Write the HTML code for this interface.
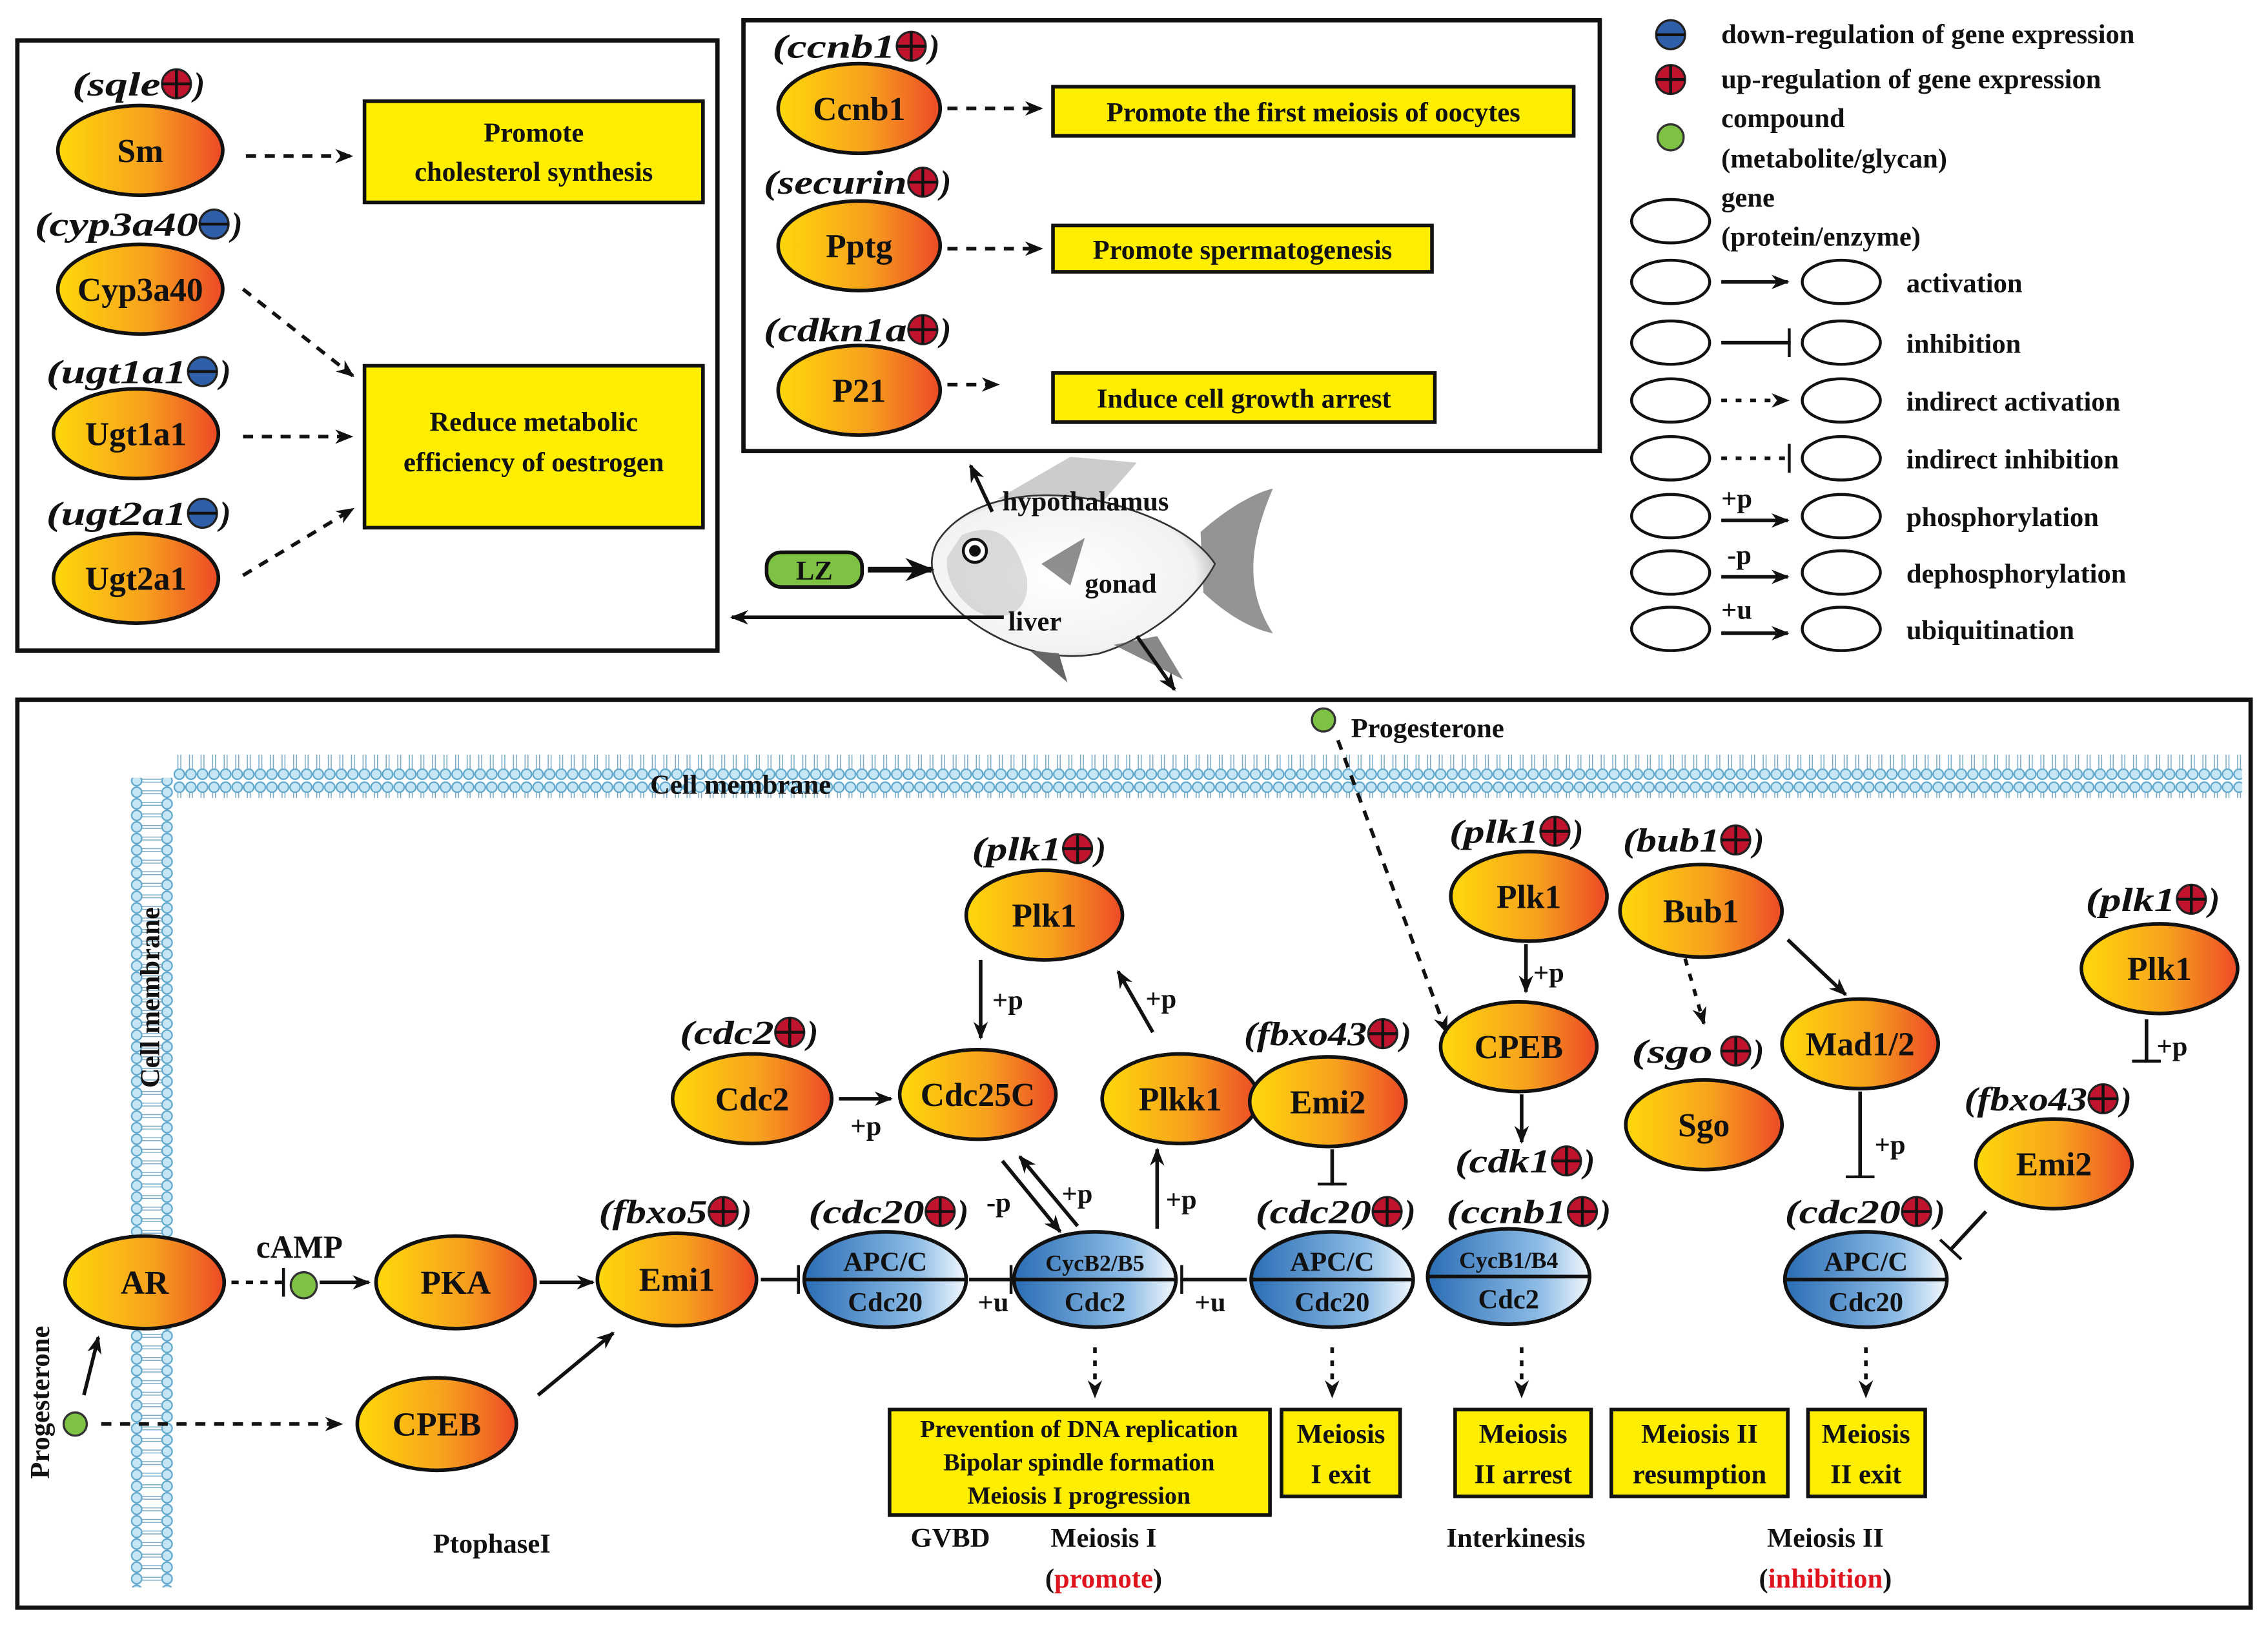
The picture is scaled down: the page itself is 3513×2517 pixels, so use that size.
<!DOCTYPE html>
<html><head><meta charset="utf-8"><style>
html,body{margin:0;padding:0;background:#fff}
svg{display:block}
svg text{font-family:"Liberation Serif","Times New Roman","Nimbus Roman","Nimbus Roman No9 L","DejaVu Serif Condensed","DejaVu Serif",serif;font-weight:bold;fill:#111}
.n{font-size:23px;text-anchor:middle}
.g{font-size:23px;font-style:italic}
.s{font-size:19px}
.l{font-size:19px}
</style></head><body>
<svg width="3513" height="2517" viewBox="0 0 1568 1124" preserveAspectRatio="none" xmlns="http://www.w3.org/2000/svg" font-weight="bold">
<defs>
<linearGradient id="og" x1="0" x2="1" y1="0" y2="0"><stop offset="0" stop-color="#ffd80a"/><stop offset="0.55" stop-color="#f7a11e"/><stop offset="1" stop-color="#ec4a26"/></linearGradient>
<linearGradient id="bg" x1="0" x2="1" y1="0" y2="0"><stop offset="0" stop-color="#2a6db5"/><stop offset="0.7" stop-color="#8fbde6"/><stop offset="1" stop-color="#f2f8fd"/></linearGradient>
<radialGradient id="fg" cx="0.45" cy="0.5" r="0.6"><stop offset="0" stop-color="#fff"/><stop offset="0.8" stop-color="#f2f2f2"/><stop offset="1" stop-color="#aaa"/></radialGradient>
<g id="up"><circle r="10" fill="#c0142e" stroke="#222" stroke-width="1.5"/><path d="M-10 0H10M0-10V10" stroke="#111" stroke-width="2"/></g>
<g id="dn"><circle r="10" fill="#2f5fa8" stroke="#222" stroke-width="1.5"/><path d="M-10 0H10" stroke="#111" stroke-width="2"/></g>
<marker id="a" viewBox="0 0 10 10" refX="9" refY="5" markerWidth="5" markerHeight="5" orient="auto"><path d="M0 1L10 5L0 9L3 5z" fill="#111"/></marker>
<marker id="t" viewBox="0 0 2 20" refX="2" refY="10" markerWidth="1" markerHeight="8" orient="auto" markerUnits="strokeWidth"><rect x="0" y="0" width="2" height="20" fill="#111"/></marker>
<pattern id="mh" width="8" height="30" patternUnits="userSpaceOnUse"><circle cx="4" cy="4.5" r="3.5" fill="#c6e6f6" stroke="#5ea6cc" stroke-width="1"/><circle cx="4" cy="25.5" r="3.5" fill="#c6e6f6" stroke="#5ea6cc" stroke-width="1"/><path d="M3 8V22M5 8V22" stroke="#7aaac4" stroke-width="0.7"/></pattern>
<pattern id="mv" width="30" height="8" patternUnits="userSpaceOnUse"><circle cx="4.5" cy="4" r="3.5" fill="#c6e6f6" stroke="#5ea6cc" stroke-width="1"/><circle cx="25.5" cy="4" r="3.5" fill="#c6e6f6" stroke="#5ea6cc" stroke-width="1"/><path d="M8 3H22M8 5H22" stroke="#7aaac4" stroke-width="0.7"/></pattern>
</defs>

<!-- ===== Box 1 ===== -->
<rect x="12" y="28" width="484" height="422" fill="none" stroke="#111" stroke-width="3"/>
<text class="g" x="50" y="66" textLength="61" lengthAdjust="spacingAndGlyphs">(sqle</text><use href="#up" x="122" y="58"/><text class="g" x="134" y="66">)</text>
<ellipse cx="97" cy="104" rx="57" ry="31" fill="url(#og)" stroke="#111" stroke-width="2.5"/><text class="n" x="97" y="112">Sm</text>
<text class="g" x="24" y="163" textLength="113" lengthAdjust="spacingAndGlyphs">(cyp3a40</text><use href="#dn" x="148" y="155"/><text class="g" x="160" y="163">)</text>
<ellipse cx="97" cy="200" rx="57" ry="31" fill="url(#og)" stroke="#111" stroke-width="2.5"/><text class="n" x="97" y="208">Cyp3a40</text>
<text class="g" x="32" y="265" textLength="97" lengthAdjust="spacingAndGlyphs">(ugt1a1</text><use href="#dn" x="140" y="257"/><text class="g" x="152" y="265">)</text>
<ellipse cx="94" cy="300" rx="57" ry="31" fill="url(#og)" stroke="#111" stroke-width="2.5"/><text class="n" x="94" y="308">Ugt1a1</text>
<text class="g" x="32" y="363" textLength="97" lengthAdjust="spacingAndGlyphs">(ugt2a1</text><use href="#dn" x="140" y="355"/><text class="g" x="152" y="363">)</text>
<ellipse cx="94" cy="400" rx="57" ry="31" fill="url(#og)" stroke="#111" stroke-width="2.5"/><text class="n" x="94" y="408">Ugt2a1</text>
<rect x="252" y="70" width="234" height="70" fill="#ffee00" stroke="#111" stroke-width="2.5"/>
<text class="s" x="369" y="98" text-anchor="middle">Promote</text><text class="s" x="369" y="125" text-anchor="middle">cholesterol synthesis</text>
<rect x="252" y="253" width="234" height="112" fill="#ffee00" stroke="#111" stroke-width="2.5"/>
<text class="s" x="369" y="298" text-anchor="middle">Reduce metabolic</text><text class="s" x="369" y="326" text-anchor="middle">efficiency of oestrogen</text>
<g stroke="#111" stroke-width="2.5" stroke-dasharray="7,6" fill="none" marker-end="url(#a)">
<path d="M170 108H243"/><path d="M168 200L244 260"/><path d="M168 302H243"/><path d="M168 398L244 352"/>
</g>

<!-- ===== Box 2 ===== -->
<rect x="514" y="14" width="592" height="298" fill="none" stroke="#111" stroke-width="3"/>
<text class="g" x="534" y="40" textLength="85" lengthAdjust="spacingAndGlyphs">(ccnb1</text><use href="#up" x="630" y="32"/><text class="g" x="642" y="40">)</text>
<ellipse cx="594" cy="75" rx="56" ry="31" fill="url(#og)" stroke="#111" stroke-width="2.5"/><text class="n" x="594" y="83">Ccnb1</text>
<text class="g" x="528" y="134" textLength="99" lengthAdjust="spacingAndGlyphs">(securin</text><use href="#up" x="638" y="126"/><text class="g" x="650" y="134">)</text>
<ellipse cx="594" cy="170" rx="56" ry="31" fill="url(#og)" stroke="#111" stroke-width="2.5"/><text class="n" x="594" y="178">Pptg</text>
<text class="g" x="528" y="236" textLength="99" lengthAdjust="spacingAndGlyphs">(cdkn1a</text><use href="#up" x="638" y="228"/><text class="g" x="650" y="236">)</text>
<ellipse cx="594" cy="270" rx="56" ry="31" fill="url(#og)" stroke="#111" stroke-width="2.5"/><text class="n" x="594" y="278">P21</text>
<rect x="728" y="60" width="360" height="34" fill="#ffee00" stroke="#111" stroke-width="2.5"/><text class="s" x="908" y="84" text-anchor="middle">Promote the first meiosis of oocytes</text>
<rect x="728" y="156" width="262" height="32" fill="#ffee00" stroke="#111" stroke-width="2.5"/><text class="s" x="859" y="179" text-anchor="middle">Promote spermatogenesis</text>
<rect x="728" y="258" width="264" height="34" fill="#ffee00" stroke="#111" stroke-width="2.5"/><text class="s" x="860" y="282" text-anchor="middle">Induce cell growth arrest</text>
<g stroke="#111" stroke-width="2.5" stroke-dasharray="7,6" fill="none" marker-end="url(#a)">
<path d="M655 75H720"/><path d="M655 172H720"/><path d="M655 266H690"/>
</g>

<!-- ===== Legend ===== -->
<use href="#dn" x="1155" y="24"/><text class="l" x="1190" y="30">down-regulation of gene expression</text>
<use href="#up" x="1155" y="55"/><text class="l" x="1190" y="61">up-regulation of gene expression</text>
<circle cx="1155" cy="95" r="9" fill="#7dc242" stroke="#333" stroke-width="1.5"/>
<text class="l" x="1190" y="88">compound</text><text class="l" x="1190" y="116">(metabolite/glycan)</text>
<ellipse cx="1155" cy="153" rx="27" ry="15" fill="#fff" stroke="#111" stroke-width="2"/>
<text class="l" x="1190" y="143">gene</text><text class="l" x="1190" y="170">(protein/enzyme)</text>
<g fill="#fff" stroke="#111" stroke-width="2">
<ellipse cx="1155" cy="195" rx="27" ry="15"/><ellipse cx="1273" cy="195" rx="27" ry="15"/>
<ellipse cx="1155" cy="237" rx="27" ry="15"/><ellipse cx="1273" cy="237" rx="27" ry="15"/>
<ellipse cx="1155" cy="277" rx="27" ry="15"/><ellipse cx="1273" cy="277" rx="27" ry="15"/>
<ellipse cx="1155" cy="317" rx="27" ry="15"/><ellipse cx="1273" cy="317" rx="27" ry="15"/>
<ellipse cx="1155" cy="357" rx="27" ry="15"/><ellipse cx="1273" cy="357" rx="27" ry="15"/>
<ellipse cx="1155" cy="396" rx="27" ry="15"/><ellipse cx="1273" cy="396" rx="27" ry="15"/>
<ellipse cx="1155" cy="435" rx="27" ry="15"/><ellipse cx="1273" cy="435" rx="27" ry="15"/>
</g>
<g stroke="#111" stroke-width="2.5" fill="none">
<path d="M1190 195H1236" marker-end="url(#a)"/>
<path d="M1190 237H1238" marker-end="url(#t)"/>
<path d="M1190 277H1236" stroke-dasharray="4,6" marker-end="url(#a)"/>
<path d="M1190 317H1238" stroke-dasharray="4,6" marker-end="url(#t)"/>
<path d="M1190 360H1236" marker-end="url(#a)"/>
<path d="M1190 399H1236" marker-end="url(#a)"/>
<path d="M1190 438H1236" marker-end="url(#a)"/>
</g>
<text class="l" x="1318" y="202">activation</text>
<text class="l" x="1318" y="244">inhibition</text>
<text class="l" x="1318" y="284">indirect activation</text>
<text class="l" x="1318" y="324">indirect inhibition</text>
<text class="l" x="1318" y="364">phosphorylation</text>
<text class="l" x="1318" y="403">dephosphorylation</text>
<text class="l" x="1318" y="442">ubiquitination</text>
<text class="l" x="1190" y="351">+p</text><text class="l" x="1194" y="390">-p</text><text class="l" x="1190" y="428">+u</text>

<!-- ===== Fish ===== -->
<path d="M690 345 L740 316 L786 320 L758 352 Z" fill="#999" opacity="0.5"/>
<path d="M830 368 C850 350 870 340 880 338 C862 380 862 410 880 438 C865 435 848 425 832 410 Z" fill="#666" opacity="0.7"/>
<path d="M648 375 C670 340 730 335 780 352 C810 362 830 375 840 390 C830 410 800 440 760 452 C720 460 680 440 660 420 C645 405 640 390 648 375 Z" fill="url(#fg)" stroke="#333" stroke-width="1.2"/>
<path d="M712 450 L738 472 L732 452 Z" fill="#666"/>
<path d="M770 446 L818 470 L800 440 Z" fill="#555" opacity="0.7"/>
<path d="M665 370 C690 360 702 372 710 400 C712 420 700 430 680 425 C665 420 652 400 655 385 Z" fill="#bbb" opacity="0.5"/>
<circle cx="674" cy="381" r="8" fill="#fff" stroke="#111" stroke-width="2"/><circle cx="674" cy="381" r="4" fill="#111"/>
<path d="M720 390 L750 372 L740 405 Z" fill="#444" opacity="0.6"/>
<text class="s" x="693" y="353">hypothalamus</text>
<text class="s" x="750" y="410">gonad</text>
<text class="s" x="697" y="436">liver</text>
<rect x="530" y="382" width="66" height="24" rx="10" fill="#7dc242" stroke="#111" stroke-width="2.5"/><text class="s" x="563" y="401" text-anchor="middle">LZ</text>
<g stroke="#111" stroke-width="2.5" fill="none" marker-end="url(#a)">
<path d="M600 394H644" stroke-width="4"/>
<path d="M686 354L671 322"/>
<path d="M694 427H506"/>
<path d="M786 440L812 477"/>
</g>

<!-- ===== Bottom box ===== -->
<rect x="12" y="484" width="1544" height="628" fill="none" stroke="#111" stroke-width="3"/>
<rect x="120" y="522" width="1430" height="30" fill="url(#mh)"/>
<rect x="90" y="538" width="30" height="560" fill="url(#mv)"/>
<text class="s" x="512" y="549" text-anchor="middle">Cell membrane</text>
<text class="s" x="0" y="0" text-anchor="middle" transform="translate(110 690) rotate(-90)">Cell membrane</text>
<text class="s" x="0" y="0" text-anchor="middle" transform="translate(34 970) rotate(-90)">Progesterone</text>
<circle cx="915" cy="498" r="8" fill="#7dc242" stroke="#333" stroke-width="1.5"/><text class="s" x="934" y="510">Progesterone</text>

<g fill="url(#og)" stroke="#111" stroke-width="2.5">
<ellipse cx="100" cy="887" rx="55" ry="32"/><ellipse cx="315" cy="887" rx="55" ry="32"/>
<ellipse cx="468" cy="885" rx="55" ry="32"/><ellipse cx="302" cy="985" rx="55" ry="32"/>
<ellipse cx="520" cy="760" rx="55" ry="31"/><ellipse cx="676" cy="757" rx="54" ry="31"/>
<ellipse cx="816" cy="760" rx="54" ry="31"/><ellipse cx="722" cy="633" rx="54" ry="31"/>
<ellipse cx="918" cy="762" rx="54" ry="31"/><ellipse cx="1057" cy="620" rx="54" ry="31"/>
<ellipse cx="1050" cy="724" rx="54" ry="31"/><ellipse cx="1176" cy="630" rx="56" ry="32"/>
<ellipse cx="1178" cy="778" rx="54" ry="31"/><ellipse cx="1286" cy="722" rx="54" ry="31"/>
<ellipse cx="1493" cy="670" rx="54" ry="31"/><ellipse cx="1420" cy="805" rx="54" ry="31"/>
</g>
<text class="n" x="100" y="895">AR</text><text class="n" x="315" y="895">PKA</text>
<text class="n" x="468" y="893">Emi1</text><text class="n" x="302" y="993">CPEB</text>
<text class="n" x="520" y="768">Cdc2</text><text class="n" x="676" y="765">Cdc25C</text>
<text class="n" x="816" y="768">Plkk1</text><text class="n" x="722" y="641">Plk1</text>
<text class="n" x="918" y="770">Emi2</text><text class="n" x="1057" y="628">Plk1</text>
<text class="n" x="1050" y="732">CPEB</text><text class="n" x="1176" y="638">Bub1</text>
<text class="n" x="1178" y="786">Sgo</text><text class="n" x="1286" y="730">Mad1/2</text>
<text class="n" x="1493" y="678">Plk1</text><text class="n" x="1420" y="813">Emi2</text>

<g stroke="#111" stroke-width="2.5">
<ellipse cx="612" cy="885" rx="56" ry="33" fill="url(#bg)"/><path d="M556 885H668"/>
<ellipse cx="757" cy="885" rx="56" ry="33" fill="url(#bg)"/><path d="M701 885H813"/>
<ellipse cx="921" cy="885" rx="56" ry="33" fill="url(#bg)"/><path d="M865 885H977"/>
<ellipse cx="1043" cy="883" rx="56" ry="33" fill="url(#bg)"/><path d="M987 883H1099"/>
<ellipse cx="1290" cy="885" rx="56" ry="33" fill="url(#bg)"/><path d="M1234 885H1346"/>
</g>
<text class="s" x="612" y="879" text-anchor="middle">APC/C</text><text class="s" x="612" y="907" text-anchor="middle">Cdc20</text>
<text class="s" x="757" y="879" text-anchor="middle" style="font-size:16px">CycB2/B5</text><text class="s" x="757" y="907" text-anchor="middle">Cdc2</text>
<text class="s" x="921" y="879" text-anchor="middle">APC/C</text><text class="s" x="921" y="907" text-anchor="middle">Cdc20</text>
<text class="s" x="1043" y="877" text-anchor="middle" style="font-size:16px">CycB1/B4</text><text class="s" x="1043" y="905" text-anchor="middle">Cdc2</text>
<text class="s" x="1290" y="879" text-anchor="middle">APC/C</text><text class="s" x="1290" y="907" text-anchor="middle">Cdc20</text>

<text class="g" x="672" y="595" textLength="62" lengthAdjust="spacingAndGlyphs">(plk1</text><use href="#up" x="745" y="587"/><text class="g" x="757" y="595">)</text>
<text class="g" x="470" y="722" textLength="65" lengthAdjust="spacingAndGlyphs">(cdc2</text><use href="#up" x="546" y="714"/><text class="g" x="558" y="722">)</text>
<text class="g" x="414" y="846" textLength="75" lengthAdjust="spacingAndGlyphs">(fbxo5</text><use href="#up" x="500" y="838"/><text class="g" x="512" y="846">)</text>
<text class="g" x="559" y="846" textLength="80" lengthAdjust="spacingAndGlyphs">(cdc20</text><use href="#up" x="650" y="838"/><text class="g" x="662" y="846">)</text>
<text class="g" x="860" y="723" textLength="85" lengthAdjust="spacingAndGlyphs">(fbxo43</text><use href="#up" x="956" y="715"/><text class="g" x="968" y="723">)</text>
<text class="g" x="868" y="846" textLength="80" lengthAdjust="spacingAndGlyphs">(cdc20</text><use href="#up" x="959" y="838"/><text class="g" x="971" y="846">)</text>
<text class="g" x="1002" y="583" textLength="62" lengthAdjust="spacingAndGlyphs">(plk1</text><use href="#up" x="1075" y="575"/><text class="g" x="1087" y="583">)</text>
<text class="g" x="1122" y="589" textLength="67" lengthAdjust="spacingAndGlyphs">(bub1</text><use href="#up" x="1200" y="581"/><text class="g" x="1212" y="589">)</text>
<text class="g" x="1128" y="735" textLength="56" lengthAdjust="spacingAndGlyphs">(sgo</text><use href="#up" x="1200" y="727"/><text class="g" x="1212" y="735">)</text>
<text class="g" x="1006" y="811" textLength="66" lengthAdjust="spacingAndGlyphs">(cdk1</text><use href="#up" x="1083" y="803"/><text class="g" x="1095" y="811">)</text>
<text class="g" x="1000" y="846" textLength="83" lengthAdjust="spacingAndGlyphs">(ccnb1</text><use href="#up" x="1094" y="838"/><text class="g" x="1106" y="846">)</text>
<text class="g" x="1442" y="630" textLength="62" lengthAdjust="spacingAndGlyphs">(plk1</text><use href="#up" x="1515" y="622"/><text class="g" x="1527" y="630">)</text>
<text class="g" x="1358" y="768" textLength="85" lengthAdjust="spacingAndGlyphs">(fbxo43</text><use href="#up" x="1454" y="760"/><text class="g" x="1466" y="768">)</text>
<text class="g" x="1234" y="846" textLength="80" lengthAdjust="spacingAndGlyphs">(cdc20</text><use href="#up" x="1325" y="838"/><text class="g" x="1337" y="846">)</text>

<g stroke="#111" stroke-width="2.5" fill="none">
<path d="M58 965L68 925" marker-end="url(#a)"/>
<path d="M70 985H236" stroke-dasharray="7,6" marker-end="url(#a)"/>
<path d="M160 887H197" stroke-dasharray="5,5" marker-end="url(#t)"/>
<path d="M221 887H255" marker-end="url(#a)"/>
<path d="M373 887H410" marker-end="url(#a)"/>
<path d="M372 965L424 922" marker-end="url(#a)"/>
<path d="M526 885H553" marker-end="url(#t)"/>
<path d="M670 885H700" marker-end="url(#t)"/>
<path d="M862 885H816" marker-end="url(#t)"/>
<path d="M580 760H616" marker-end="url(#a)"/>
<path d="M678 664V718" marker-end="url(#a)"/>
<path d="M797 714L773 672" marker-end="url(#a)"/>
<path d="M693 803L733 852" marker-end="url(#a)"/>
<path d="M745 848L705 800" marker-end="url(#a)"/>
<path d="M800 850V795" marker-end="url(#a)"/>
<path d="M921 795V820" marker-end="url(#t)"/>
<path d="M925 512L1000 714" stroke-dasharray="7,6" marker-end="url(#a)"/>
<path d="M1055 653V686" marker-end="url(#a)"/>
<path d="M1052 757V790" marker-end="url(#a)"/>
<path d="M1165 663L1178 708" stroke-dasharray="5,6" marker-end="url(#a)"/>
<path d="M1236 650L1276 688" marker-end="url(#a)"/>
<path d="M1286 755V815" marker-end="url(#t)"/>
<path d="M1484 705V735" marker-end="url(#t)"/>
<path d="M1373 838L1348 865" marker-end="url(#t)"/>
<path d="M757 932V966" stroke-dasharray="4,5" marker-end="url(#a)"/>
<path d="M921 932V966" stroke-dasharray="4,5" marker-end="url(#a)"/>
<path d="M1052 932V966" stroke-dasharray="4,5" marker-end="url(#a)"/>
<path d="M1290 932V966" stroke-dasharray="4,5" marker-end="url(#a)"/>
</g>
<circle cx="52" cy="985" r="8" fill="#7dc242" stroke="#333" stroke-width="1.5"/>
<circle cx="210" cy="889" r="9" fill="#7dc242" stroke="#333" stroke-width="1.5"/>
<text class="s" x="207" y="870" text-anchor="middle" style="font-size:22px">cAMP</text>
<text class="s" x="588" y="785">+p</text>
<text class="s" x="686" y="698">+p</text>
<text class="s" x="792" y="697">+p</text>
<text class="s" x="682" y="838">-p</text>
<text class="s" x="734" y="832">+p</text>
<text class="s" x="806" y="836">+p</text>
<text class="s" x="676" y="907">+u</text>
<text class="s" x="826" y="907">+u</text>
<text class="s" x="1060" y="679">+p</text>
<text class="s" x="1296" y="798">+p</text>
<text class="s" x="1491" y="730">+p</text>

<g fill="#ffee00" stroke="#111" stroke-width="2.5">
<rect x="615" y="975" width="263" height="73"/>
<rect x="886" y="975" width="82" height="60"/>
<rect x="1006" y="975" width="94" height="60"/>
<rect x="1114" y="975" width="122" height="60"/>
<rect x="1250" y="975" width="81" height="60"/>
</g>
<text class="s" x="746" y="994" text-anchor="middle" style="font-size:17px">Prevention of DNA replication</text>
<text class="s" x="746" y="1017" text-anchor="middle" style="font-size:17px">Bipolar spindle formation</text>
<text class="s" x="746" y="1040" text-anchor="middle" style="font-size:17px">Meiosis I progression</text>
<text class="s" x="927" y="998" text-anchor="middle">Meiosis</text><text class="s" x="927" y="1026" text-anchor="middle">I exit</text>
<text class="s" x="1053" y="998" text-anchor="middle">Meiosis</text><text class="s" x="1053" y="1026" text-anchor="middle">II arrest</text>
<text class="s" x="1175" y="998" text-anchor="middle">Meiosis II</text><text class="s" x="1175" y="1026" text-anchor="middle">resumption</text>
<text class="s" x="1290" y="998" text-anchor="middle">Meiosis</text><text class="s" x="1290" y="1026" text-anchor="middle">II exit</text>

<text class="s" x="340" y="1074" text-anchor="middle">PtophaseI</text>
<text class="s" x="657" y="1070" text-anchor="middle">GVBD</text>
<text class="s" x="763" y="1070" text-anchor="middle">Meiosis I</text>
<text class="s" x="763" y="1098" text-anchor="middle">(<tspan style="fill:#e0141e">promote</tspan>)</text>
<text class="s" x="1048" y="1070" text-anchor="middle">Interkinesis</text>
<text class="s" x="1262" y="1070" text-anchor="middle">Meiosis II</text>
<text class="s" x="1262" y="1098" text-anchor="middle">(<tspan style="fill:#e0141e">inhibition</tspan>)</text>
</svg>
</body></html>
